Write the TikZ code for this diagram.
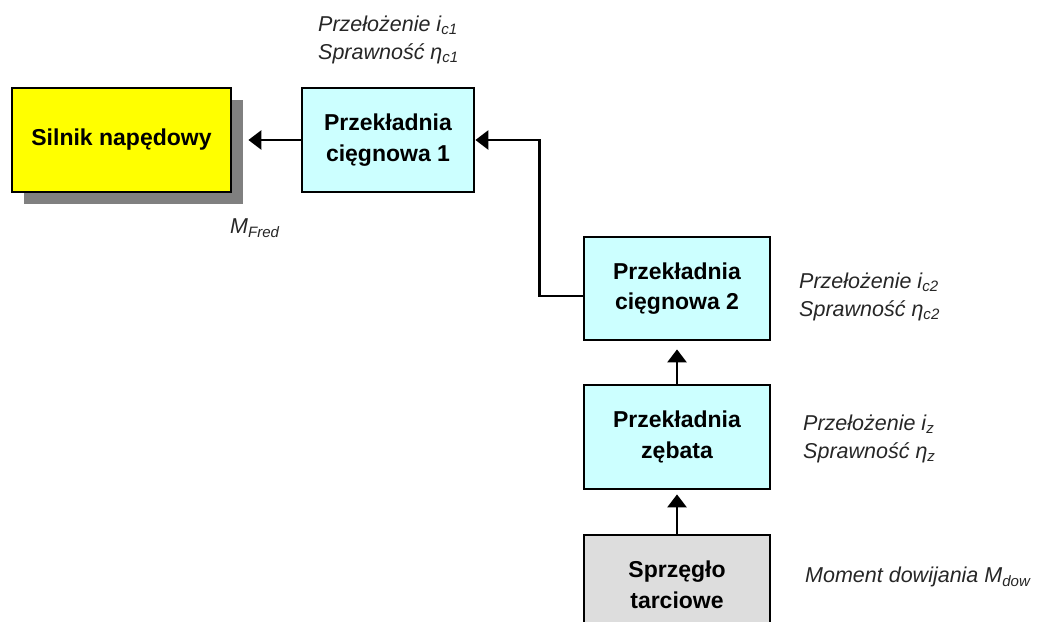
\documentclass[tikz,border=0pt]{standalone}
\usepackage{fontspec}
\setmainfont{Liberation Sans}
\usetikzlibrary{arrows.meta,calc}
\definecolor{boxcyan}{HTML}{CCFFFF}
\definecolor{boxyellow}{HTML}{FFFF00}
\definecolor{boxgray}{HTML}{DDDDDD}
\definecolor{shadowgray}{HTML}{808080}
\definecolor{labelgray}{HTML}{262626}
\tikzset{
  blockbox/.style={draw=black, line width=2.8pt, align=center, font=\fontsize{23}{30.5}\selectfont\bfseries, inner sep=0pt},
  cyanbox/.style={blockbox, fill=boxcyan, minimum width=186pt, minimum height=104pt},
  infolabel/.style={anchor=west, align=left, text=labelgray, font=\fontsize{21.5}{28}\selectfont\itshape, inner sep=0pt},
  arr/.style={line width=2.8pt, -{Triangle[width=19pt,length=13pt]}},
}
\begin{document}
\begin{tikzpicture}[x=1pt,y=-1pt]
\useasboundingbox (0,0) rectangle (1043,621);
\clip (0,0) rectangle (1043,621);
% shadow of motor box
\fill[shadowgray] (24,100) rectangle (243,204);
\node[blockbox, fill=boxyellow, minimum width=219pt, minimum height=104pt] (silnik) at (121.5,140) {Silnik napędowy};
\node[cyanbox, minimum width=172pt] (pc1) at (388,140) {Przekładnia\\cięgnowa 1};
\node[cyanbox, minimum height=103pt] (pc2) at (677,288.5) {Przekładnia\\cięgnowa 2};
\node[cyanbox] (zeb) at (677,437) {Przekładnia\\zębata};
\node[blockbox, fill=boxgray, minimum width=186pt, minimum height=100pt] (sprz) at (677,585) {Sprzęgło\\tarciowe};

% connectors
\draw[arr, shorten >=16pt] (pc1.west) -- (silnik.east);
\draw[arr] ([yshift=-7.5pt]pc2.west) -- ++(-43,0) |- (pc1.east);
\draw[arr, shorten >=8pt] (zeb.north) -- (pc2.south);
\draw[arr, shorten >=4pt] (sprz.north) -- (zeb.south);

% labels
\node[infolabel] (l1) at (318,40) {Przełożenie i\textsubscript{c1}\\Sprawność η\textsubscript{c1}};
\node[infolabel] (lf) at (230,228) {M\textsubscript{Fred}};
\node[infolabel] (l2) at (799,297) {Przełożenie i\textsubscript{c2}\\Sprawność η\textsubscript{c2}};
\node[infolabel] (l3) at (803,439) {Przełożenie i\textsubscript{z}\\Sprawność η\textsubscript{z}};
\node[infolabel] (l4) at (805,577) {Moment dowijania M\textsubscript{dow}};
\end{tikzpicture}
\end{document}
